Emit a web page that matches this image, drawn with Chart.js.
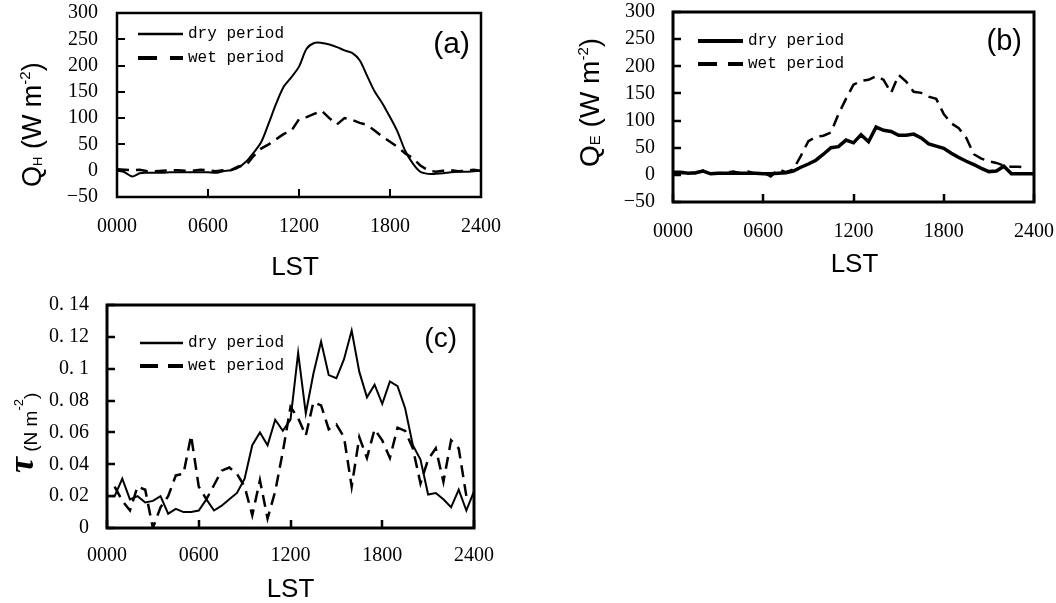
<!DOCTYPE html>
<html>
<head>
<meta charset="utf-8">
<script src="https://cdn.jsdelivr.net/npm/chart.js@4.4.0/dist/chart.umd.min.js"></script>
<style>
  body { margin: 0; background: #fff; }
  #page { position: relative; width: 1056px; height: 603px; overflow: hidden; background: #fff; }
  canvas { position: absolute; }
</style>
</head>
<body>
<div id="page">
  <canvas id="chartA" width="530" height="290" style="left:0;top:0"></canvas>
  <canvas id="chartB" width="526" height="290" style="left:530px;top:0"></canvas>
  <canvas id="chartC" width="530" height="313" style="left:0;top:290px"></canvas>
</div>
<script>
// local standard time, half-hourly
const hours = [0, 0.5, 1, 1.5, 2, 2.5, 3, 3.5, 4, 4.5, 5, 5.5, 6, 6.5, 7, 7.5, 8, 8.5, 9, 9.5,
  10, 10.5, 11, 11.5, 12, 12.5, 13, 13.5, 14, 14.5, 15, 15.5, 16, 16.5, 17, 17.5, 18, 18.5, 19, 19.5,
  20, 20.5, 21, 21.5, 22, 22.5, 23, 23.5, 24]

// (a) sensible heat flux QH, W m-2
const dryQH = [0, -3, -11, -5, -4, -4, -4, -3, -3, -3, -3, -3, -3, -4, -1, 1, 6, 17, 34, 54,
  90, 128, 160, 178, 198, 232, 243, 243, 240, 235, 229, 224, 210, 180, 150, 128, 102, 74, 38, 14,
  -2, -6, -6, -5, -3, -2, -2, -1, 0]
const wetQH = [3, 2, 1, 2, -1, -1, 0, 1, 1, 0, 0, 2, 1, -1, 1, 1, 8, 10, 28, 42,
  50, 60, 70, 76, 98, 102, 108, 114, 100, 88, 100, 97, 91, 87, 76, 65, 55, 45, 33, 24,
  10, 1, -2, 0, 1, -1, 0, 2, 0]

// (b) latent heat flux QE, W m-2
const dryQE = [5, 5, 3, 4, 7, 2, 3, 3, 3, 3, 3, 3, 2, 2, 3, 4, 7, 14, 20, 27,
  38, 50, 52, 64, 59, 74, 61, 88, 82, 80, 73, 73, 75, 68, 57, 53, 49, 40, 32, 25,
  19, 12, 6, 7, 16, 2, 2, 2, 2]
const wetQE = [3, 3, 4, 3, 8, 3, 3, 4, 6, 3, 6, 2, 4, -3, 10, 5, 10, 35, 62, 70,
  72, 78, 112, 140, 166, 173, 175, 182, 175, 151, 184, 172, 153, 151, 144, 140, 112, 95, 86, 68,
  38, 30, 25, 22, 17, 15, 15, 13, null]

// (c) momentum flux tau, N m-2
const dryTau = [0.020, 0.020, 0.031, 0.018, 0.020, 0.016, 0.017, 0.020, 0.009, 0.012, 0.010, 0.010, 0.011, 0.018, 0.011, 0.014,
  0.018, 0.022, 0.031, 0.052, 0.060, 0.052, 0.068, 0.061, 0.068, 0.110, 0.072, 0.097, 0.117, 0.096, 0.094, 0.106,
  0.124, 0.098, 0.082, 0.090, 0.078, 0.092, 0.089, 0.075, 0.052, 0.043, 0.021, 0.022, 0.018, 0.013, 0.024, 0.011, 0.023]
const wetTau = [null, 0.026, 0.017, 0.011, 0.026, 0.024, 0.000, 0.013, 0.020, 0.033, 0.034, 0.058, 0.026, 0.018, 0.027, 0.036,
  0.038, 0.034, 0.026, 0.008, 0.030, 0.006, 0.023, 0.048, 0.076, 0.069, 0.058, 0.079, 0.077, 0.062, 0.065, 0.057,
  0.026, 0.057, 0.044, 0.062, 0.055, 0.044, 0.063, 0.061, 0.050, 0.028, 0.043, 0.050, 0.029, 0.055, 0.050, 0.020, null]

const xTickValues = [0, 6, 12, 18, 24]
const xTickLabels = ['0000', '0600', '1200', '1800', '2400']
const fluxTickValues = [-50, 0, 50, 100, 150, 200, 250, 300]
const fluxTickLabels = ['\u221250', '0', '50', '100', '150', '200', '250', '300']
const tauTickValues = [0, 0.02, 0.04, 0.06, 0.08, 0.1, 0.12, 0.14]
const tauTickLabels = ['0', '0. 02', '0. 04', '0. 06', '0. 08', '0. 1', '0. 12', '0. 14']
const seriesNames = ['dry period', 'wet period']

// box, inward ticks, legend, panel letter and axis titles.
// settings hang on the canvas so chart.js's option resolver leaves them alone
const panelDecor = {
  id: 'panelDecor',
  afterDraw(chart) {
    const o = chart.canvas.decor
    const ctx = chart.ctx
    const a = chart.chartArea
    const x = chart.scales.x, y = chart.scales.y
    ctx.save()
    ctx.strokeStyle = '#000'
    ctx.fillStyle = '#000'
    ctx.setLineDash([])

    ctx.lineWidth = o.tickWidth
    ctx.beginPath()
    x.ticks.forEach(t => {
      const px = Math.round(x.getPixelForValue(t.value))
      ctx.moveTo(px, a.bottom)
      ctx.lineTo(px, a.bottom - o.tickLen)
    })
    y.ticks.forEach(t => {
      const py = Math.round(y.getPixelForValue(t.value))
      ctx.moveTo(a.left, py)
      ctx.lineTo(a.left + o.tickLen, py)
    })
    ctx.stroke()

    ctx.lineWidth = o.boxWidth
    ctx.strokeRect(a.left, a.top, a.right - a.left, a.bottom - a.top)

    // legend
    chart.data.datasets.forEach((ds, i) => {
      const ly = a.top + o.legendTop + i * o.legendGap
      const lx = a.left + o.legendLeft
      ctx.lineWidth = o.legendWidths[i]
      ctx.setLineDash(i ? o.legendDash : [])
      ctx.beginPath()
      ctx.moveTo(lx, ly)
      ctx.lineTo(lx + o.legendLen, ly)
      ctx.stroke()
      ctx.setLineDash([])
      ctx.font = '16px "Liberation Mono"'
      ctx.textAlign = 'left'
      ctx.textBaseline = 'middle'
      ctx.fillText(ds.label, lx + o.legendLen + 5, ly)
    })

    // panel letter
    ctx.font = o.letterFont
    ctx.textAlign = 'right'
    ctx.textBaseline = 'alphabetic'
    ctx.fillText(o.letter, a.right - o.letterRight, a.top + o.letterTop)

    // x title
    ctx.font = '26px "Liberation Sans"'
    ctx.textAlign = 'center'
    ctx.fillText('LST', (a.left + a.right) / 2 + o.xTitleShift, a.bottom + o.xTitleTop)

    // y title, rotated, pieced together for the sub/superscripts
    ctx.translate(a.left + o.yTitle.dx, a.bottom + o.yTitle.dy)
    ctx.rotate(-Math.PI / 2)
    ctx.textAlign = 'left'
    let pos = 0
    o.yTitle.parts.forEach(p => {
      ctx.font = p.font
      ctx.fillText(p.text, pos, p.shift)
      pos += ctx.measureText(p.text).width
    })
    ctx.restore()
  }
}

function points(values) {
  return hours.map((h, i) => ({ x: h, y: values[i] }))
}

function makePanel(id, p) {
  const canvas = document.getElementById(id)
  canvas.decor = p.decor
  const tickFont = { family: 'Liberation Serif', size: 20, lineHeight: 1 }
  // the gap between labels and axis goes into tickLength (grid hidden, so no marks drawn);
  // ticks.padding would also get added to the label overflow and shrink the plot
  return new Chart(canvas, {
    type: 'line',
    data: {
      datasets: [
        { label: seriesNames[0], data: points(p.dry), borderColor: '#000', borderWidth: p.dryWidth,
          pointRadius: 0, tension: p.tension, fill: false },
        { label: seriesNames[1], data: points(p.wet), borderColor: '#000', borderWidth: p.wetWidth,
          borderDash: [12, 7], pointRadius: 0, tension: 0, fill: false, spanGaps: false }
      ]
    },
    options: {
      responsive: false,
      animation: false,
      events: [],
      layout: { padding: { left: 0, top: p.area.top, right: canvas.width - p.area.right, bottom: 0 } },
      scales: {
        x: {
          type: 'linear', min: 0, max: 24,
          afterBuildTicks: s => { s.ticks = xTickValues.map(v => ({ value: v })) },
          afterFit: s => { s.height = canvas.height - p.area.bottom },
          ticks: { callback: (v, i) => xTickLabels[i], font: tickFont, color: '#000',
            padding: 0, maxRotation: 0, autoSkip: false },
          grid: { display: false, drawTicks: true, tickLength: p.xPad },
          border: { display: false }
        },
        y: {
          min: p.yTicks[0], max: p.yTicks[p.yTicks.length - 1],
          afterBuildTicks: s => { s.ticks = p.yTicks.map(v => ({ value: v })) },
          afterFit: s => { s.width = p.area.left },
          ticks: { callback: (v, i) => p.yLabels[i], font: tickFont, color: '#000',
            padding: 0, autoSkip: false },
          grid: { display: false, drawTicks: true, tickLength: p.yPad },
          border: { display: false }
        }
      },
      plugins: {
        legend: { display: false },
        tooltip: { enabled: false }
      }
    },
    plugins: [panelDecor]
  })
}

makePanel('chartA', {
  area: { left: 117, top: 13, right: 481, bottom: 197 },
  dry: dryQH, wet: wetQH, dryWidth: 2, wetWidth: 2.5, tension: 0.3,
  yTicks: fluxTickValues, yLabels: fluxTickLabels, xPad: 20, yPad: 19,
  decor: {
    tickWidth: 2, tickLen: 8, boxWidth: 2.5,
    legendTop: 21, legendGap: 24, legendLeft: 21, legendLen: 45,
    legendWidths: [2.5, 4], legendDash: [19, 13],
    letter: '(a)', letterFont: '30px "Liberation Sans"', letterRight: 11, letterTop: 40,
    xTitleShift: -4, xTitleTop: 78,
    yTitle: { dx: -76, dy: -10, parts: [
      { text: 'Q', font: '27px "Liberation Sans"', shift: 0 },
      { text: 'H', font: '13px "Liberation Sans"', shift: 1 },
      { text: ' (W m', font: '27px "Liberation Sans"', shift: 0 },
      { text: '-2', font: '15px "Liberation Sans"', shift: -11 },
      { text: ')', font: '27px "Liberation Sans"', shift: 0 }
    ] }
  }
})

makePanel('chartB', {
  area: { left: 143, top: 12, right: 504, bottom: 202 },
  dry: dryQE, wet: wetQE, dryWidth: 3.5, wetWidth: 2.5, tension: 0,
  yTicks: fluxTickValues, yLabels: fluxTickLabels, xPad: 20, yPad: 18,
  decor: {
    tickWidth: 2.5, tickLen: 8, boxWidth: 3,
    legendTop: 29, legendGap: 23, legendLeft: 25, legendLen: 45,
    legendWidths: [4, 4], legendDash: [19, 11],
    letter: '(b)', letterFont: '29px "Liberation Sans"', letterRight: 12, letterTop: 38,
    xTitleShift: 1, xTitleTop: 70,
    yTitle: { dx: -74, dy: -35, parts: [
      { text: 'Q', font: '28px "Liberation Sans"', shift: 0 },
      { text: 'E', font: '15px "Liberation Sans"', shift: 1 },
      { text: ' (W m', font: '28px "Liberation Sans"', shift: 0 },
      { text: '-2', font: '15px "Liberation Sans"', shift: -11 },
      { text: ')', font: '28px "Liberation Sans"', shift: 0 }
    ] }
  }
})

makePanel('chartC', {
  area: { left: 107, top: 15, right: 474, bottom: 238 },
  dry: dryTau, wet: wetTau, dryWidth: 2, wetWidth: 2.5, tension: 0,
  yTicks: tauTickValues, yLabels: tauTickLabels, xPad: 18, yPad: 18,
  decor: {
    tickWidth: 2.5, tickLen: 8, boxWidth: 3,
    legendTop: 38, legendGap: 23, legendLeft: 33, legendLen: 43,
    legendWidths: [2.5, 4], legendDash: [18, 10],
    letter: '(c)', letterFont: '28px "Liberation Sans"', letterRight: 17, letterTop: 42,
    xTitleShift: 0, xTitleTop: 69,
    yTitle: { dx: -74, dy: -55, parts: [
      { text: '\u03c4', font: 'bold italic 36px "Liberation Serif"', shift: 0 },
      { text: ' (N m', font: '19px "Liberation Sans"', shift: 4 },
      { text: '-2', font: '13px "Liberation Sans"', shift: -10 },
      { text: ')', font: '19px "Liberation Sans"', shift: 4 }
    ] }
  }
})
</script>
</body>
</html>
